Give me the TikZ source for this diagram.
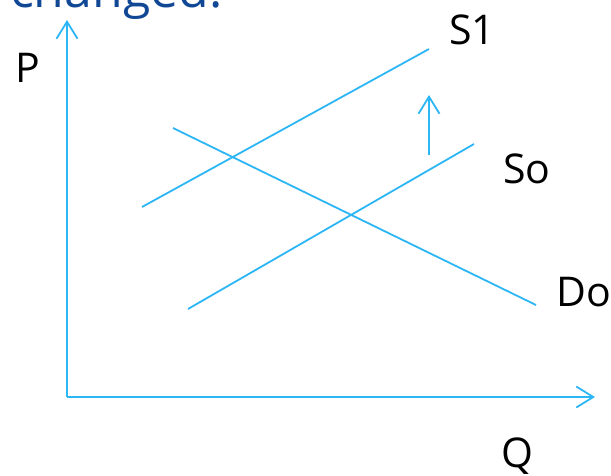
\documentclass[tikz,border=0pt]{standalone}
\usepackage{fontspec}
\setmainfont{Open Sans}
\usetikzlibrary{arrows.meta}
\definecolor{lineblue}{RGB}{45,182,245}
\definecolor{titleblue}{RGB}{16,72,150}
\begin{document}
\begin{tikzpicture}[x=1pt,y=-1pt,
  curve/.style={draw=lineblue,line width=1.8pt},
  axisline/.style={draw=lineblue,line width=1.8pt,-{Straight Barb[length=17pt,width=21pt,line width=1.8pt]}},
  lbl/.style={inner sep=0pt,anchor=base west,font=\fontsize{41}{41}\selectfont,text=black}]
\useasboundingbox (0,0) rectangle (611,475);
% partly visible title
\node[inner sep=0pt,anchor=base west,font=\fontsize{50}{50}\selectfont,text=titleblue] (title) at (10,7) {changed.};
% axes
\coordinate (O) at (67,397);
\coordinate (ytop) at (67,20);
\coordinate (xend) at (595,397);
\draw[axisline] (O) -- (ytop);
\draw[axisline] (O) -- (xend);
% curves
\coordinate (s1a) at (142,207);
\coordinate (s1b) at (429,49);
\coordinate (s0a) at (188,309);
\coordinate (s0b) at (474,144);
\coordinate (d0a) at (173,128);
\coordinate (d0b) at (536,305);
\draw[curve] (s1a) -- (s1b);
\draw[curve] (s0a) -- (s0b);
\draw[curve] (d0a) -- (d0b);
% shift arrow
\coordinate (arrA) at (429,155);
\coordinate (arrB) at (429,95);
\draw[axisline] (arrA) -- (arrB);
% labels
\node[lbl] (P) at (15,82) {P};
\node[lbl] (S1) at (449,44) {S1};
\node[lbl] (S0) at (503,183) {So};
\node[lbl] (D0) at (556,306) {Do};
\node[lbl] (Q) at (501,467) {Q};
\end{tikzpicture}
\end{document}
